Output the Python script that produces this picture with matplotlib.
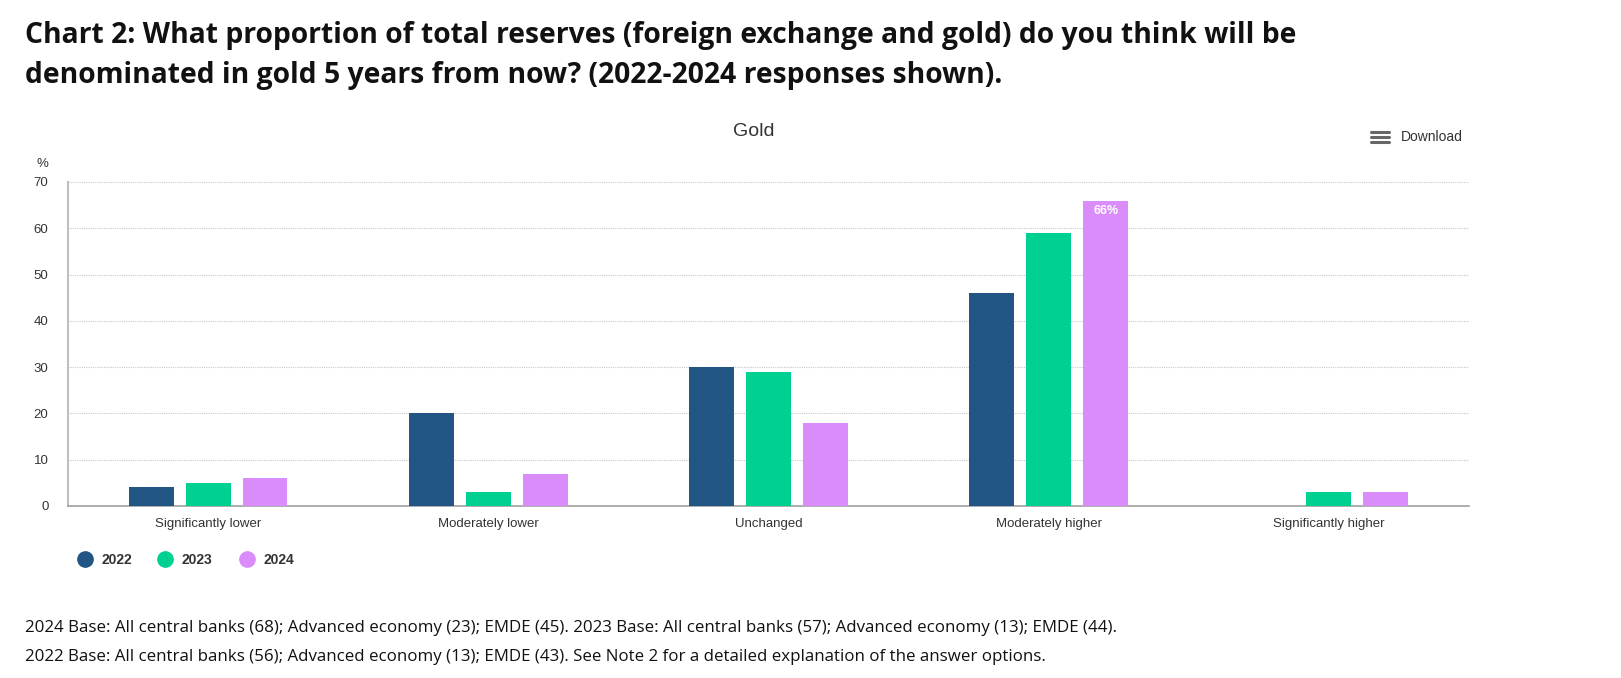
import numpy as np
import matplotlib.pyplot as plt

# Data
categories = ["Significantly lower", "Moderately lower", "Unchanged",
              "Moderately higher", "Significantly higher"]
years = ["2022", "2023", "2024"]
vals_2022 = [4, 20, 30, 46, 0]
vals_2023 = [5, 3, 29, 59, 3]
vals_2024 = [6, 7, 18, 66, 3]
yticks = [0, 10, 20, 30, 40, 50, 60, 70]

colors = ["#215584", "#00d092", "#db8cfb"]
series = [vals_2022, vals_2023, vals_2024]

W, H = 1621, 678
fig = plt.figure(figsize=(W / 100, H / 100), dpi=100)
ax = fig.add_axes([68 / W, 1 - 506 / H, (1469 - 68) / W, (506 - 182) / H])

x = np.arange(len(categories))
bw = 0.16
offs = [-0.203, 0, 0.203]
for vals, c, o in zip(series, colors, offs):
    ax.bar(x + o, vals, width=bw, color=c, zorder=3)

# data label on the tallest bar
imax = int(np.argmax(vals_2024))
ax.text(x[imax] + offs[2], vals_2024[imax] - 1.0, f"{vals_2024[imax]}%",
        ha="center", va="top", color="white", fontsize=9, fontweight="bold",
        family="Liberation Sans", zorder=4)

ax.set_xlim(-0.5, len(categories) - 0.5)
ax.set_ylim(0, 70)
ax.set_yticks(yticks)
ax.set_xticks(x)
ax.set_xticklabels(categories, family="Liberation Sans", fontsize=9.5, color="#333333")
ax.tick_params(axis="x", length=0, pad=9)
ax.tick_params(axis="y", length=0, pad=14, labelsize=9.5, labelcolor="#333333")
for lab in ax.get_yticklabels():
    lab.set_family("Liberation Sans")
ax.grid(axis="y", color="#c8c8c8", linestyle=(0, (1, 1)), linewidth=0.8, zorder=0)
for s in ["top", "right"]:
    ax.spines[s].set_visible(False)
ax.spines["left"].set_color("#c0c0c0")
ax.spines["left"].set_linewidth(1.5)
ax.spines["bottom"].set_color("#a0a0a0")
ax.spines["bottom"].set_linewidth(1.2)

fig.text(42 / W, 1 - 164 / H, "%", fontsize=9.5, color="#333333",
         family="Liberation Sans", ha="center", va="center")

# titles
fig.text(25 / W, 1 - 36 / H, "Chart 2: What proportion of total reserves (foreign exchange and gold) do you think will be",
         fontsize=20.3, fontweight="bold", family="Open Sans", va="center", color="#111111")
fig.text(25 / W, 1 - 75 / H, "denominated in gold 5 years from now? (2022-2024 responses shown).",
         fontsize=20.3, fontweight="bold", family="Open Sans", va="center", color="#111111")
fig.text(754 / W, 1 - 131 / H, "Gold", fontsize=14, family="Liberation Sans",
         ha="center", va="center", color="#333333")

# download menu
for dy in (-5, 0, 5):
    fig.add_artist(plt.Line2D([1371 / W, 1389 / W], [1 - (137 + dy) / H] * 2,
                              color="#666666", linewidth=2.2, solid_capstyle="round"))
fig.text(1401 / W, 1 - 137 / H, "Download", fontsize=10, family="Liberation Sans",
         va="center", color="#333333")

# legend
lx = [85, 165, 247]
for xi, yr, c in zip(lx, years, colors):
    fig.add_artist(plt.Line2D([xi / W], [1 - 559 / H], marker="o", markersize=11,
                              color=c, linestyle="none"))
    fig.text((xi + 16) / W, 1 - 560 / H, yr, fontsize=10, fontweight="bold",
             family="Liberation Sans", va="center", color="#333333")

# footnotes
fig.text(25 / W, 1 - 628 / H,
         "2024 Base: All central banks (68); Advanced economy (23); EMDE (45). 2023 Base: All central banks (57); Advanced economy (13); EMDE (44).",
         fontsize=12.2, family="Open Sans", va="center", color="#111111")
fig.text(25 / W, 1 - 657 / H,
         "2022 Base: All central banks (56); Advanced economy (13); EMDE (43). See Note 2 for a detailed explanation of the answer options.",
         fontsize=12.2, family="Open Sans", va="center", color="#111111")

fig.savefig("out.png", dpi=100)
